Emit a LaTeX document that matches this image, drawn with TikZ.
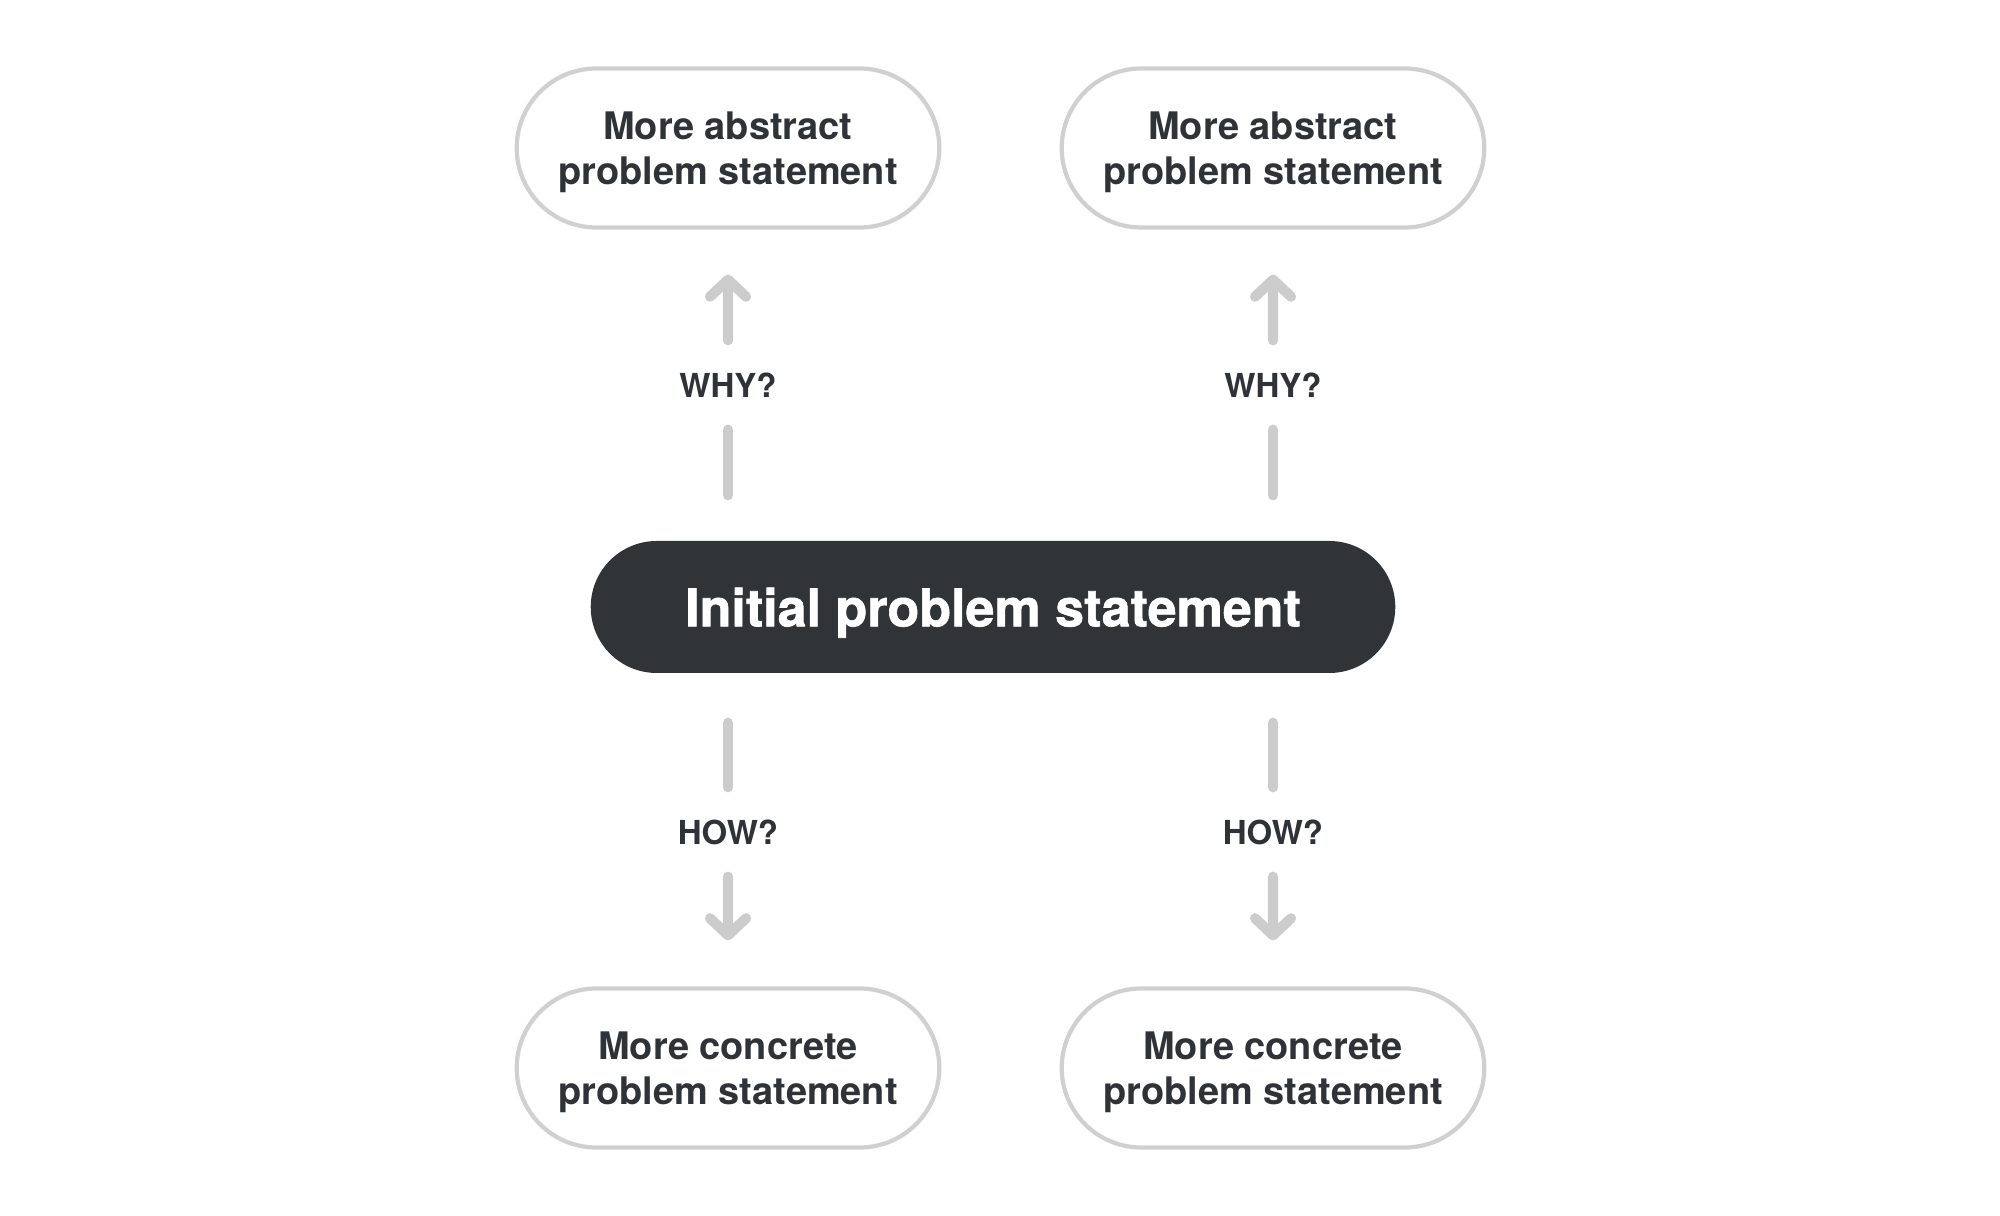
\documentclass[tikz,border=0pt]{standalone}
\usepackage{fontspec}
\setmainfont{TeX Gyre Heros}
\newfontfamily\heavyfont[BoldFeatures={FakeBold=1.2}]{TeX Gyre Heros}
\usepackage{tikz}
\usetikzlibrary{arrows.meta,shapes.misc}
\definecolor{inkdark}{HTML}{2F3337}
\definecolor{pillfill}{HTML}{313437}
\definecolor{arrowgray}{HTML}{CCCCCC}
\definecolor{pillrim}{HTML}{D0D0D0}

\begin{document}
\begin{tikzpicture}[
    pill/.style={rounded rectangle,draw=pillrim,line width=1.2pt,fill=white,
      minimum width=4.46cm,minimum height=1.59cm,align=center,text=inkdark,
      text depth=0pt,font=\fontsize{10.8}{12.8}\selectfont\bfseries},
    mainpill/.style={rounded rectangle,fill=pillfill,minimum width=8.28cm,
      minimum height=1.32cm,text=white,text depth=0pt,
      font=\fontsize{14.8}{16}\heavyfont\bfseries},
    asklabel/.style={minimum height=0.88cm,inner sep=0pt,text=inkdark,
      font=\fontsize{9.4}{11}\selectfont\bfseries},
    seg/.style={arrowgray,line width=2.9pt,line cap=round},
    arr/.style={seg,-{Straight Barb[length=1.7mm,width=3.6mm,round]}}
  ]
  \useasboundingbox (0,0) rectangle (20,12.15);
  % the question in the middle
  \node[mainpill] (init) at (9.93,6.08) {Initial problem statement};
  % abstract side
  \node[pill] (abs1) at (7.28,10.67) {More abstract\\problem statement};
  \node[pill] (abs2) at (12.73,10.67) {More abstract\\problem statement};
  \node[asklabel] (why1) at (7.28,8.30) {WHY?};
  \node[asklabel] (why2) at (12.73,8.30) {WHY?};
  % concrete side
  \node[pill] (con1) at (7.28,1.47) {More concrete\\problem statement};
  \node[pill] (con2) at (12.73,1.47) {More concrete\\problem statement};
  \node[asklabel] (how1) at (7.28,3.83) {HOW?};
  \node[asklabel] (how2) at (12.73,3.83) {HOW?};
  % why? arrows
  \draw[seg,shorten >=0.45cm] (why1.south) -- (why1 |- init.north);
  \draw[seg,shorten >=0.45cm] (why2.south) -- (why2 |- init.north);
  \draw[arr,shorten >=0.45cm] (why1) -- (abs1);
  \draw[arr,shorten >=0.45cm] (why2) -- (abs2);
  % how? arrows
  \draw[seg,shorten >=0.49cm] (how1.north) -- (how1 |- init.south);
  \draw[seg,shorten >=0.49cm] (how2.north) -- (how2 |- init.south);
  \draw[arr,shorten >=0.46cm] (how1) -- (con1);
  \draw[arr,shorten >=0.46cm] (how2) -- (con2);
\end{tikzpicture}
\end{document}
